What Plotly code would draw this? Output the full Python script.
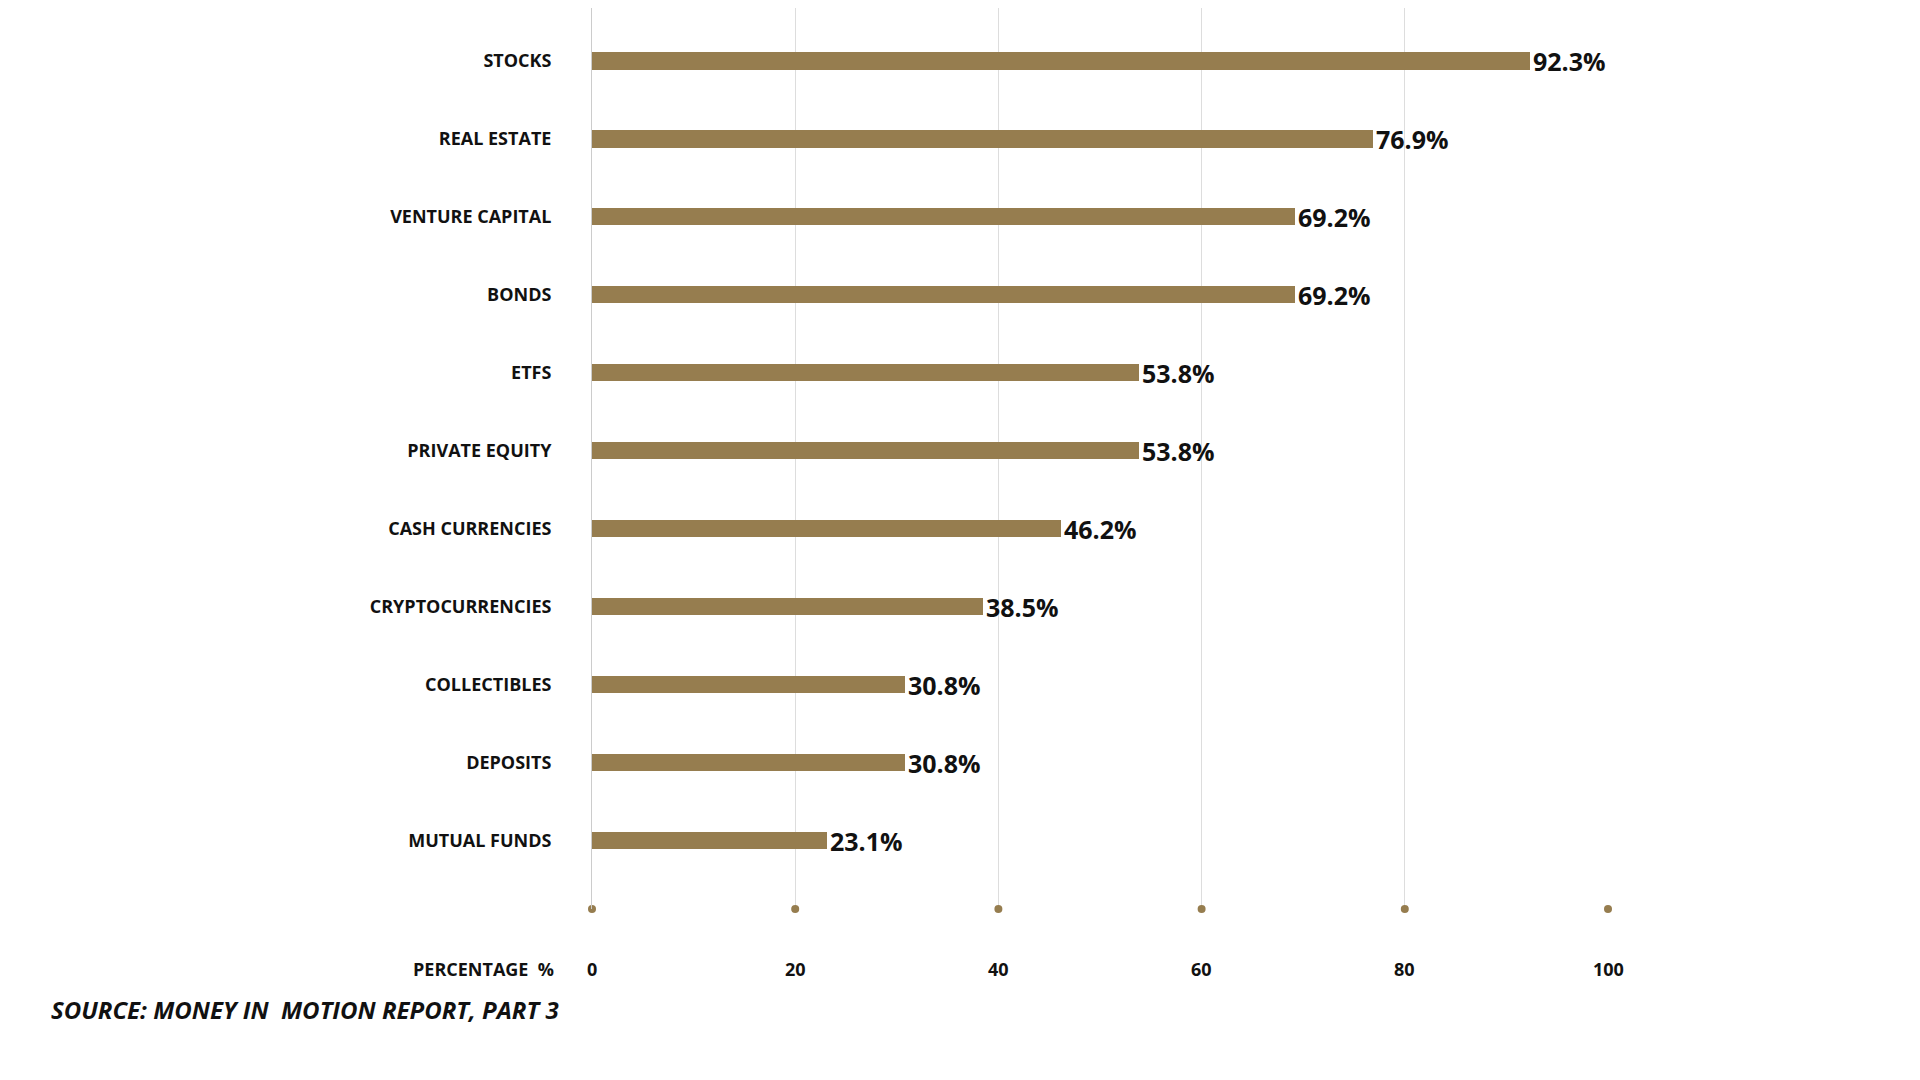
import plotly.graph_objects as go

categories = ["MUTUAL FUNDS", "DEPOSITS", "COLLECTIBLES", "CRYPTOCURRENCIES", "CASH CURRENCIES",
              "PRIVATE EQUITY", "ETFS", "BONDS", "VENTURE CAPITAL", "REAL ESTATE", "STOCKS"]
values = [23.1, 30.8, 30.8, 38.5, 46.2, 53.8, 53.8, 69.2, 69.2, 76.9, 92.3]
x_ticks = [0, 20, 40, 60, 80, 100]

BAR = "#967D4F"
FONT = "Open Sans"
ypos = list(range(len(categories)))

fig = go.Figure()
fig.add_trace(go.Bar(
    x=values, y=ypos, orientation="h", width=0.22,
    marker=dict(color=BAR, line=dict(width=0)),
    text=[f"<b>{v}%</b>" for v in values], textposition="outside",
    constraintext="none",
    textfont=dict(family=FONT, size=25, color="#111"), cliponaxis=False,
))
# dots at the bottom of each gridline
fig.add_trace(go.Scatter(
    x=x_ticks, y=[-0.88] * len(x_ticks), mode="markers",
    marker=dict(color=BAR, size=8), cliponaxis=False,
))

for t in x_ticks:
    fig.add_annotation(x=t, y=-0.88, yshift=-60, text=f"<b>{t}</b>", showarrow=False,
                       font=dict(family=FONT, size=18, color="#111"))
fig.add_annotation(x=0, y=-0.88, xshift=-36, yshift=-60, xanchor="right",
                   text="<b>PERCENTAGE  %</b>", showarrow=False,
                   font=dict(family=FONT, size=18, color="#111"))
fig.add_annotation(xref="paper", yref="paper", x=-(584 - 41) / 1016, y=0,
                   yshift=-100, xanchor="left", yanchor="middle",
                   text="<b><i>SOURCE: MONEY IN  MOTION REPORT, PART 3</i></b>",
                   showarrow=False, font=dict(family=FONT, size=24, color="#111"))

fig.update_layout(
    width=1920, height=1080, showlegend=False,
    plot_bgcolor="white", paper_bgcolor="white",
    margin=dict(l=584, r=320, t=0, b=179),
    bargap=0,
    xaxis=dict(range=[0, 100], tickvals=x_ticks, showticklabels=False,
               showgrid=True, gridcolor="#dddddd", gridwidth=1, zeroline=False),
    yaxis=dict(range=[-0.88, 10.68], tickvals=ypos, ticktext=[f"<b>{c}</b>" for c in categories],
               tickfont=dict(family=FONT, size=18, color="#111"), ticklabelstandoff=36,
               showgrid=False, zeroline=False, showline=True, linecolor="#cccccc"),
)

fig.write_html("out.html")
